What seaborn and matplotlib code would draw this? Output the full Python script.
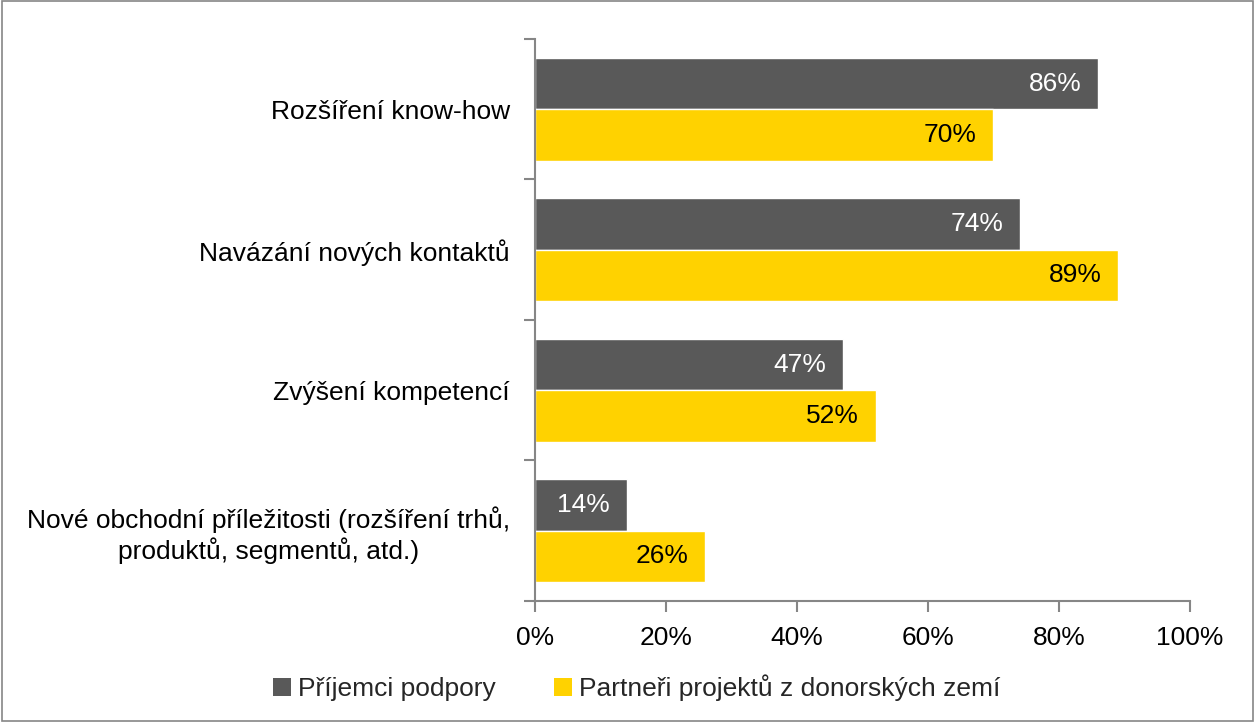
import matplotlib
matplotlib.use("Agg")
import matplotlib.pyplot as plt
import matplotlib.patches as mpatches
import seaborn as sns
import pandas as pd

categories = [
    "Rozšíření know-how",
    "Navázání nových kontaktů",
    "Zvýšení kompetencí",
    "Nové obchodní příležitosti (rozšíření trhů,\nproduktů, segmentů, atd.)",
]
series_names = ["Příjemci podpory", "Partneři projektů z donorských zemí"]
prijemci = [86, 74, 47, 14]
partneri = [70, 89, 52, 26]
x_ticks = [0, 20, 40, 60, 80, 100]
x_tick_labels = ["0%", "20%", "40%", "60%", "80%", "100%"]

colors = {series_names[0]: "#595959", series_names[1]: "#FFD200"}
label_colors = {series_names[0]: "white", series_names[1]: "black"}

df = pd.DataFrame({
    "kategorie": categories * 2,
    "serie": [series_names[0]] * 4 + [series_names[1]] * 4,
    "hodnota": prijemci + partneri,
})

sns.set_theme(style="white")
plt.rcParams["font.family"] = ["Liberation Sans", "DejaVu Sans"]
FS = 19

fig = plt.figure(figsize=(12.55, 7.22), dpi=100)
ax = fig.add_axes([0.4263, 0.1676, 0.5219, 0.7784])

sns.barplot(data=df, y="kategorie", x="hodnota", hue="serie", order=categories,
            hue_order=series_names, palette=colors, orient="h", width=0.73,
            gap=0, saturation=1, ax=ax, legend=True)

ax.set_xlim(0, 100)
ax.set_ylim(3.5, -0.5)
ax.set_xticks(x_ticks)
ax.set_xticklabels(x_tick_labels, fontsize=FS, color="black")
ax.set_yticks([-0.5, 0.5, 1.5, 2.5, 3.5], minor=False)
ax.set_yticklabels([])
ax.set_yticks(range(len(categories)), minor=True)
ax.set_yticklabels(categories, minor=True, fontsize=FS, color="black",
                   multialignment="center")
ax.tick_params(axis="y", which="minor", length=0, pad=18)
ax.tick_params(axis="y", which="major", length=8, width=1.5, color="#868686",
               direction="out", left=True)
ax.tick_params(axis="x", length=8, width=1.5, color="#868686", direction="out",
               bottom=True, pad=10)
ax.set_xlabel("")
ax.set_ylabel("")

for side in ["top", "right"]:
    ax.spines[side].set_visible(False)
for side in ["left", "bottom"]:
    ax.spines[side].set_color("#868686")
    ax.spines[side].set_linewidth(1.5)

# value labels placed just inside the end of each bar
for container, name in zip(ax.containers, series_names):
    for bar, value in zip(container.patches, container.datavalues):
        ax.annotate(f"{value:.0f}%",
                    xy=(bar.get_x() + bar.get_width(), bar.get_y() + bar.get_height() / 2),
                    xytext=(-12, 0), textcoords="offset points",
                    ha="right", va="center", fontsize=FS, color=label_colors[name])

leg = ax.get_legend()
if leg is not None:
    leg.remove()
handles = [mpatches.Patch(facecolor=colors[n], edgecolor="none") for n in series_names]
fig.legend(handles, series_names, loc="center", bbox_to_anchor=(0.507, 0.047),
           ncol=2, frameon=False, fontsize=FS, handlelength=0.7, handleheight=0.7,
           handletextpad=0.25, columnspacing=2.2)

fig.patches.append(mpatches.Rectangle((0.0015, 0.002), 0.997, 0.996,
                                      transform=fig.transFigure, fill=False,
                                      edgecolor="#868686", linewidth=1.2))

fig.savefig("out.png", dpi=100, facecolor="white")
